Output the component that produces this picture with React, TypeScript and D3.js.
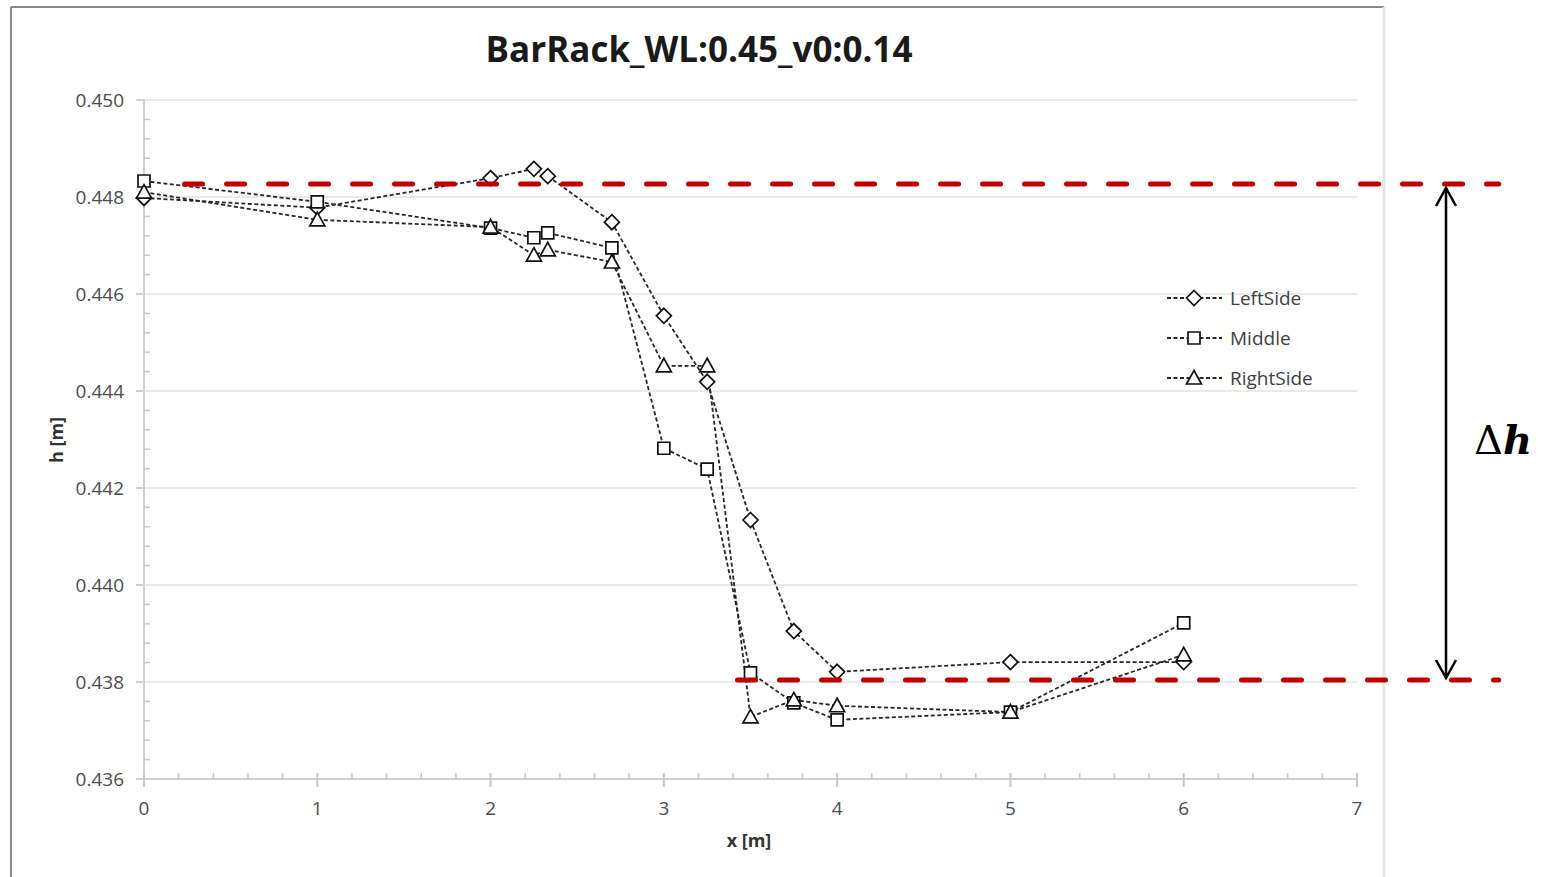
import React from "react";
import * as d3 from "d3";

// ---------- data ----------
const TITLE = "BarRack_WL:0.45_v0:0.14";
const X_LABEL = "x [m]";
const Y_LABEL = "h [m]";
const X_TICKS = [0, 1, 2, 3, 4, 5, 6, 7];
const Y_TICKS = [0.436, 0.438, 0.44, 0.442, 0.444, 0.446, 0.448, 0.45];

const X_POS = [0, 1, 2, 2.25, 2.33, 2.7, 3, 3.25, 3.5, 3.75, 4, 5, 6];
const LEFT_SIDE = [0.44798, 0.44778, 0.44839, 0.44858, 0.44843, 0.44748, 0.44555, 0.44419, 0.44134, 0.43905, 0.43821, 0.43841, 0.43841];
const MIDDLE = [0.44833, 0.4479, 0.44736, 0.44716, 0.44726, 0.44695, 0.44282, 0.44239, 0.43819, 0.43757, 0.43722, 0.43738, 0.43922];
const RIGHT_SIDE = [0.4481, 0.44753, 0.44738, 0.4468, 0.44691, 0.44666, 0.44452, 0.44452, 0.43728, 0.43763, 0.43751, 0.43738, 0.43856];

const SERIES_NAMES = ["LeftSide", "Middle", "RightSide"];
const SERIES_MARKERS = ["diamond", "square", "triangle"];

// annotation levels (Δh)
const REF_HIGH = 0.448268;
const REF_LOW = 0.438041;
const REF_HIGH_FROM_X = 0.234;
const REF_LOW_FROM_X = 3.425;
const REF_TO_X = 7.818;
const DELTA_LABEL_H = "h";

// ---------- layout ----------
const W = 1550;
const H = 877;
const x = d3.scaleLinear().domain([0, 7]).range([144, 1357]);
const y = d3.scaleLinear().domain([0.436, 0.45]).range([779, 100]);

const FONT = "'Open Sans', 'Liberation Sans', sans-serif";

function markerPath(kind: string): string {
  if (kind === "diamond") return "M0,-7.5L7.5,0L0,7.5L-7.5,0Z";
  if (kind === "square") return "M-6,-6H6V6H-6Z";
  return "M0,-7.5L7.5,6L-7.5,6Z";
}

const series = [LEFT_SIDE, MIDDLE, RIGHT_SIDE].map((vals, i) => ({
  name: SERIES_NAMES[i],
  marker: SERIES_MARKERS[i],
  points: X_POS.map((xv, j) => [xv, vals[j]] as [number, number]),
}));

const line = d3
  .line<[number, number]>()
  .x((d) => x(d[0]))
  .y((d) => y(d[1]));

export default function App() {
  const xMinor = d3.range(0, 7.0001, 0.2).filter((v) => Math.abs(v - Math.round(v)) > 1e-6);
  const yMinor = d3.range(0.436, 0.45, 0.0004).filter((v) => Math.abs(v / 0.002 - Math.round(v / 0.002)) > 1e-4);
  const yHigh = y(REF_HIGH);
  const yLow = y(REF_LOW);
  const arrowX = 1446;

  return (
    <svg
      width={W}
      height={H}
      style={{ position: "absolute", left: 0, top: 0, background: "#fff" }}
      xmlns="http://www.w3.org/2000/svg"
    >
      <rect x={0} y={0} width={W} height={H} fill="#fff" />
      {/* chart frame */}
      <line x1={11} y1={7} x2={11} y2={H} stroke="#8a8a8a" strokeWidth={2} />
      <line x1={11} y1={7} x2={1384} y2={7} stroke="#8a8a8a" strokeWidth={2} />
      <line x1={1384} y1={7} x2={1384} y2={H} stroke="#e6e6e6" strokeWidth={3} />

      {/* title */}
      <text x={699} y={62} textAnchor="middle" fontFamily={FONT} fontWeight={700} fontSize={35} fill="#1a1a1a">
        {TITLE}
      </text>

      {/* gridlines */}
      {Y_TICKS.map((t) => (
        <line key={"g" + t} x1={x(0)} x2={x(7)} y1={y(t)} y2={y(t)} stroke="#e3e3e3" strokeWidth={1.5} />
      ))}

      {/* axes */}
      <line x1={x(0)} x2={x(0)} y1={y(0.45)} y2={y(0.436) + 7} stroke="#d0d0d0" strokeWidth={2} />
      <line x1={x(0) - 8} x2={x(7)} y1={y(0.436)} y2={y(0.436)} stroke="#d0d0d0" strokeWidth={2} />
      {Y_TICKS.map((t) => (
        <line key={"yt" + t} x1={x(0) - 8} x2={x(0)} y1={y(t)} y2={y(t)} stroke="#d0d0d0" strokeWidth={2} />
      ))}
      {yMinor.map((t) => (
        <line key={"ym" + t} x1={x(0)} x2={x(0) + 6} y1={y(t)} y2={y(t)} stroke="#c8c8c8" strokeWidth={1.5} />
      ))}
      {X_TICKS.map((t) => (
        <line key={"xt" + t} x1={x(t)} x2={x(t)} y1={y(0.436) - 6} y2={y(0.436) + 8} stroke="#c8c8c8" strokeWidth={2} />
      ))}
      {xMinor.map((t) => (
        <line key={"xm" + t} x1={x(t)} x2={x(t)} y1={y(0.436) - 6} y2={y(0.436)} stroke="#c8c8c8" strokeWidth={1.5} />
      ))}

      {/* tick labels */}
      {Y_TICKS.map((t) => (
        <text key={"yl" + t} x={124} y={y(t)} dy="0.36em" textAnchor="end" fontFamily={FONT} fontSize={19} fill="#4d4d4d">
          {d3.format(".3f")(t)}
        </text>
      ))}
      {X_TICKS.map((t) => (
        <text key={"xl" + t} x={x(t)} y={815} textAnchor="middle" fontFamily={FONT} fontSize={19} fill="#4d4d4d">
          {t}
        </text>
      ))}

      {/* axis titles */}
      <text x={749} y={847} textAnchor="middle" fontFamily={FONT} fontWeight={700} fontSize={18} fill="#333">
        {X_LABEL}
      </text>
      <text
        transform="translate(63,440) rotate(-90)"
        textAnchor="middle"
        fontFamily={FONT}
        fontWeight={700}
        fontSize={18}
        fill="#333"
      >
        {Y_LABEL}
      </text>

      {/* series lines */}
      {series.map((s) => (
        <path key={"l" + s.name} d={line(s.points) || ""} fill="none" stroke="#262626" strokeWidth={1.8} strokeDasharray="4 2.5" />
      ))}
      {/* markers */}
      {series.map((s) =>
        s.points.map((p, j) => (
          <path
            key={"m" + s.name + j}
            d={markerPath(s.marker)}
            transform={`translate(${x(p[0])},${y(p[1])})`}
            fill="#fff"
            stroke="#111"
            strokeWidth={1.7}
          />
        ))
      )}

      {/* legend */}
      {series.map((s, i) => {
        const ly = 298 + i * 40;
        return (
          <g key={"lg" + s.name}>
            <line x1={1167} x2={1222} y1={ly} y2={ly} stroke="#262626" strokeWidth={1.8} strokeDasharray="4 2.5" />
            <path d={markerPath(s.marker)} transform={`translate(1194,${ly})`} fill="#fff" stroke="#111" strokeWidth={1.7} />
            <text x={1230} y={ly} dy="0.36em" fontFamily={FONT} fontSize={19} fill="#404040">
              {s.name}
            </text>
          </g>
        );
      })}

      {/* Δh annotation */}
      <line
        x1={x(REF_HIGH_FROM_X)}
        x2={x(REF_TO_X)}
        y1={yHigh}
        y2={yHigh}
        stroke="#c00000"
        strokeWidth={5}
        strokeLinecap="round"
        strokeDasharray="18 24"
      />
      <line
        x1={x(REF_LOW_FROM_X)}
        x2={x(REF_TO_X)}
        y1={yLow}
        y2={yLow}
        stroke="#c00000"
        strokeWidth={5}
        strokeLinecap="round"
        strokeDasharray="18 24"
      />
      <line x1={arrowX} x2={arrowX} y1={yHigh + 4} y2={yLow - 2} stroke="#000" strokeWidth={2.5} />
      <polyline
        points={`${arrowX - 10},${yHigh + 22} ${arrowX},${yHigh + 4} ${arrowX + 10},${yHigh + 22}`}
        fill="none"
        stroke="#000"
        strokeWidth={2.5}
      />
      <polyline
        points={`${arrowX - 10},${yLow - 20} ${arrowX},${yLow - 2} ${arrowX + 10},${yLow - 20}`}
        fill="none"
        stroke="#000"
        strokeWidth={2.5}
      />
      <text x={1474} y={454} fontFamily="'DejaVu Serif', 'Liberation Serif', serif" fontSize={40} fill="#000">
        <tspan fontWeight={400}>Δ</tspan>
        <tspan fontWeight={700} fontStyle="italic">{DELTA_LABEL_H}</tspan>
      </text>
    </svg>
  );
}
